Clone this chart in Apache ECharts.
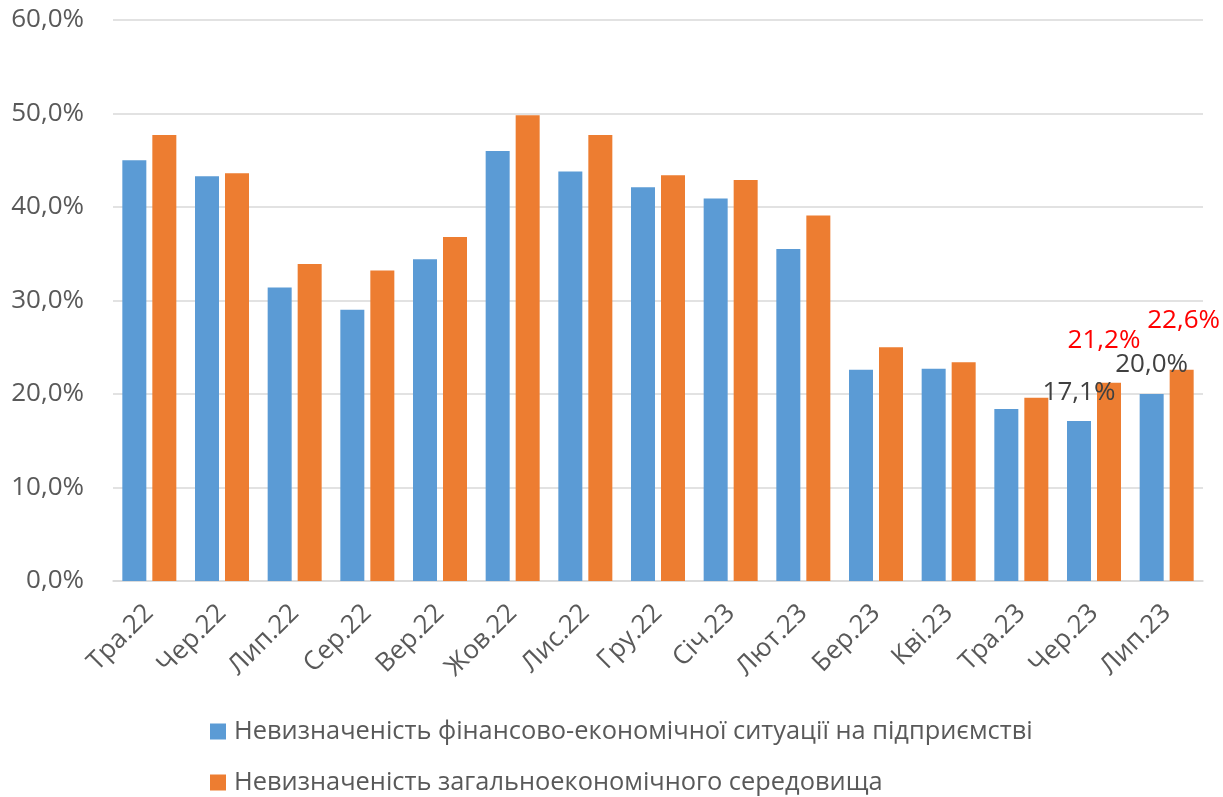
<!DOCTYPE html>
<html>
<head>
<meta charset="utf-8">
<script src="https://cdn.jsdelivr.net/npm/echarts@6/dist/echarts.min.js"></script>
<style>html,body{margin:0;padding:0;background:#fff}#c{width:1223px;height:797px}</style>
</head>
<body>
<div id="c"></div>
<script>
const categories = ['Тра.22','Чер.22','Лип.22','Сер.22','Вер.22','Жов.22','Лис.22','Гру.22','Січ.23','Лют.23','Бер.23','Кві.23','Тра.23','Чер.23','Лип.23'];
const seriesNames = ['Невизначеність фінансово-економічної ситуації на підприємстві','Невизначеність загальноекономічного середовища'];
const financial = [45.0, 43.3, 31.4, 29.0, 34.4, 46.0, 43.8, 42.1, 40.9, 35.5, 22.6, 22.7, 18.4, 17.1, 20.0];
const general = [47.7, 43.6, 33.9, 33.2, 36.8, 49.8, 47.7, 43.4, 42.9, 39.1, 25.0, 23.4, 19.6, 21.2, 22.6];
const yTicks = [0, 10, 20, 30, 40, 50, 60];
const labeledFinancial = [13, 14];
const labeledGeneral = [13, 14];

const FONT = '"Open Sans", "Noto Sans", sans-serif';
const fmt = v => v.toFixed(1).replace('.', ',') + '%';

const finData = financial.map((v, i) => {
  if (labeledFinancial.includes(i)) {
    return {value: v, label: {show: true, position: 'top', distance: 16, color: '#404040', fontSize: 26, fontFamily: FONT, formatter: p => fmt(p.value)}};
  }
  return v;
});
const genOffsets = {13: {d: 29, dx: -5}, 14: {d: 36, dx: 2}};
const genData = general.map((v, i) => {
  if (labeledGeneral.includes(i)) {
    return {value: v, label: {show: true, position: 'top', distance: genOffsets[i].d, offset: [genOffsets[i].dx, 0], color: '#FF0000', fontSize: 26, fontFamily: FONT, formatter: p => fmt(p.value)}};
  }
  return v;
});

const legendBase = {
  orient: 'vertical',
  left: 210,
  padding: 0,
  itemWidth: 16,
  itemHeight: 16,
  icon: 'rect',
  textStyle: {fontSize: 25.4, color: '#595959', fontFamily: FONT, padding: [0, 0, 0, 3]}
};

const chart = echarts.init(document.getElementById('c'));
chart.setOption({
  animation: false,
  textStyle: {fontFamily: FONT},
  grid: {left: 113, right: 20, top: 20, bottom: 216, containLabel: false},
  legend: [
    Object.assign({}, legendBase, {top: 719, data: [seriesNames[0]]}),
    Object.assign({}, legendBase, {top: 770, data: [seriesNames[1]]})
  ],
  xAxis: {
    type: 'category',
    data: categories,
    axisLine: {lineStyle: {color: '#d9d9d9', width: 1.5}},
    axisTick: {show: false},
    axisLabel: {rotate: 45, fontSize: 26, color: '#595959', margin: 28, fontFamily: FONT, interval: 0}
  },
  yAxis: {
    type: 'value',
    min: yTicks[0],
    max: yTicks[yTicks.length - 1],
    interval: 10,
    axisLine: {show: false},
    axisTick: {show: false},
    splitLine: {lineStyle: {color: '#d9d9d9', width: 1.5}},
    axisLabel: {fontSize: 26, color: '#595959', margin: 29, fontFamily: FONT, formatter: v => fmt(v)}
  },
  series: [
    {name: seriesNames[0], type: 'bar', data: finData, barWidth: 24, barGap: '25%', itemStyle: {color: '#5B9BD5'}},
    {name: seriesNames[1], type: 'bar', data: genData, barWidth: 24, itemStyle: {color: '#ED7D31'}}
  ]
});
</script>
</body>
</html>
